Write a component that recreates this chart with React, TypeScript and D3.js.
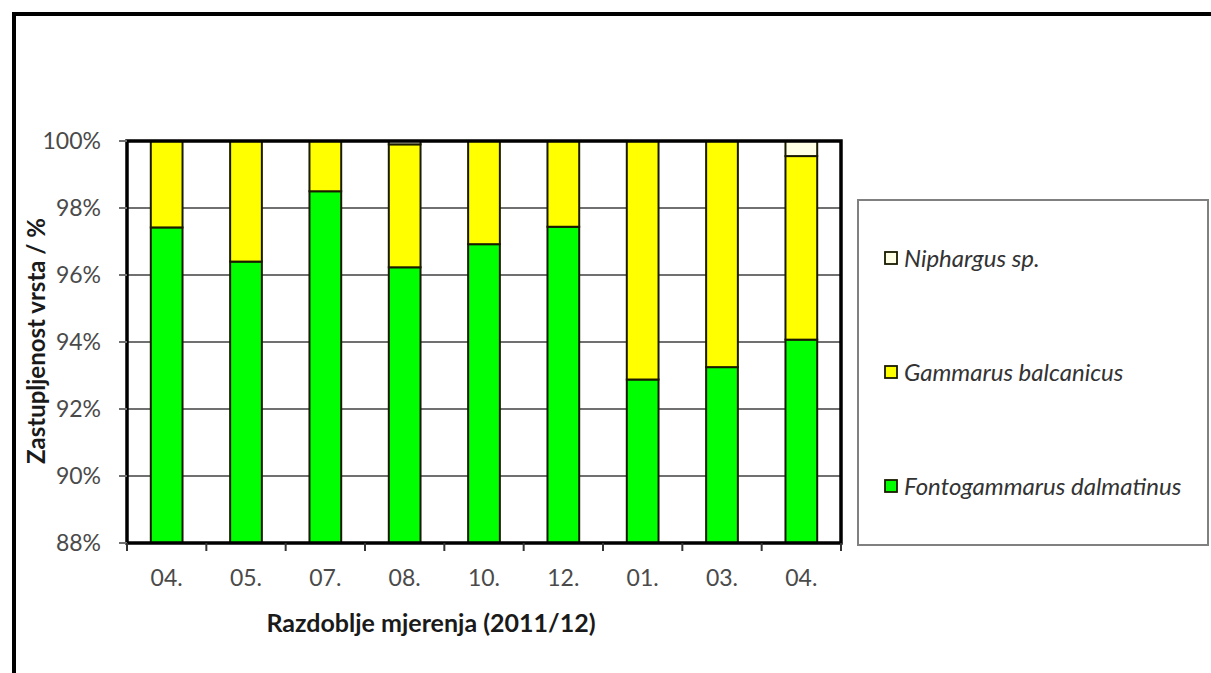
import React, { useEffect, useRef } from 'react';
import * as d3 from 'd3';

const periods = ['04.', '05.', '07.', '08.', '10.', '12.', '01.', '03.', '04.'];
const fontogammarus = [97.42, 96.4, 98.5, 96.23, 96.92, 97.44, 92.88, 93.25, 94.07];
const gammarus = [2.58, 3.6, 1.5, 3.67, 3.08, 2.56, 7.12, 6.75, 5.48];
const niphargus = [0, 0, 0, 0.1, 0, 0, 0, 0, 0.45];
const yTicks = [88, 90, 92, 94, 96, 98, 100];

const seriesNames = ['Fontogammarus dalmatinus', 'Gammarus balcanicus', 'Niphargus sp.'];
const seriesColors = ['#00ff00', '#ffff00', '#ffffe6'];

const W = 1211;
const H = 673;
const FONT = 'Lato, "Open Sans", sans-serif';

const App: React.FC = () => {
  const svgRef = useRef<SVGSVGElement>(null);

  useEffect(() => {
    const svg = d3.select(svgRef.current);
    svg.selectAll('*').remove();

    const left = 127;
    const right = 841;
    const top = 141;
    const bottom = 543;

    const rows = periods.map((p, i) => ({
      idx: i,
      f: fontogammarus[i],
      g: gammarus[i],
      n: niphargus[i],
    }));

    const x = d3
      .scaleBand<number>()
      .domain(d3.range(periods.length))
      .range([left, right])
      .paddingInner(0.6)
      .paddingOuter(0.3);
    const y = d3.scaleLinear().domain([88, 100]).range([bottom, top]).clamp(true);

    // outer frame (top and left only visible)
    svg.append('line').attr('x1', 12).attr('x2', W).attr('y1', 14).attr('y2', 14)
      .attr('stroke', '#000').attr('stroke-width', 4);
    svg.append('line').attr('x1', 14).attr('x2', 14).attr('y1', 12).attr('y2', H)
      .attr('stroke', '#000').attr('stroke-width', 4);

    // gridlines
    svg.append('g')
      .selectAll('line')
      .data(yTicks.filter((t) => t > 88 && t < 100))
      .join('line')
      .attr('x1', left)
      .attr('x2', right)
      .attr('y1', (d) => y(d))
      .attr('y2', (d) => y(d))
      .attr('stroke', '#707070')
      .attr('stroke-width', 2);

    // stacked bars
    const stack = d3.stack<typeof rows[0]>().keys(['f', 'g', 'n']);
    const stacked = stack(rows);
    svg.append('g')
      .selectAll('g')
      .data(stacked)
      .join('g')
      .attr('fill', (_, i) => seriesColors[i])
      .selectAll('rect')
      .data((s) => s.filter((d) => d[1] - d[0] > 0))
      .join('rect')
      .attr('x', (d) => x(d.data.idx)!)
      .attr('width', x.bandwidth())
      .attr('y', (d) => y(d[1]))
      .attr('height', (d) => y(d[0]) - y(d[1]))
      .attr('stroke', '#1a1a00')
      .attr('stroke-width', 2);

    // plot border
    svg.append('rect')
      .attr('x', left)
      .attr('y', top)
      .attr('width', right - left)
      .attr('height', bottom - top)
      .attr('fill', 'none')
      .attr('stroke', '#000')
      .attr('stroke-width', 3.5);

    // y ticks and labels
    const yAxis = svg.append('g');
    yAxis.selectAll('line')
      .data(yTicks)
      .join('line')
      .attr('x1', left - 8)
      .attr('x2', left)
      .attr('y1', (d) => y(d))
      .attr('y2', (d) => y(d))
      .attr('stroke', '#707070')
      .attr('stroke-width', 2);
    yAxis.selectAll('text')
      .data(yTicks)
      .join('text')
      .attr('x', 101)
      .attr('y', (d) => y(d) + 8)
      .attr('text-anchor', 'end')
      .attr('font-family', FONT)
      .attr('font-size', 23)
      .attr('fill', '#4a4a4a')
      .text((d) => `${d}%`);

    // x ticks at band boundaries
    const step = x.step();
    const x0 = left;
    svg.append('g')
      .selectAll('line')
      .data(d3.range(periods.length + 1))
      .join('line')
      .attr('x1', (i) => x0 + i * step)
      .attr('x2', (i) => x0 + i * step)
      .attr('y1', bottom)
      .attr('y2', bottom + 8)
      .attr('stroke', '#333')
      .attr('stroke-width', 2);
    svg.append('g')
      .selectAll('text')
      .data(rows)
      .join('text')
      .attr('x', (d) => x(d.idx)! + x.bandwidth() / 2)
      .attr('y', 586)
      .attr('text-anchor', 'middle')
      .attr('font-family', FONT)
      .attr('font-size', 23)
      .attr('fill', '#4a4a4a')
      .text((d) => periods[d.idx]);

    // axis titles
    svg.append('text')
      .attr('x', 431)
      .attr('y', 632)
      .attr('text-anchor', 'middle')
      .attr('font-family', FONT)
      .attr('font-weight', 'bold')
      .attr('font-size', 25)
      .attr('fill', '#1a1a1a')
      .text('Razdoblje mjerenja (2011/12)');
    svg.append('text')
      .attr('transform', 'translate(45, 341) rotate(-90)')
      .attr('text-anchor', 'middle')
      .attr('font-family', FONT)
      .attr('font-weight', 'bold')
      .attr('font-size', 24)
      .attr('fill', '#1a1a1a')
      .text('Zastupljenost vrsta / %');

    // legend
    const lg = svg.append('g');
    lg.append('rect')
      .attr('x', 858)
      .attr('y', 200)
      .attr('width', 350)
      .attr('height', 345)
      .attr('fill', '#fff')
      .attr('stroke', '#808080')
      .attr('stroke-width', 2);
    const order = [2, 1, 0];
    const item = lg.selectAll('g')
      .data(order)
      .join('g')
      .attr('transform', (_, i) => `translate(885, ${258 + i * 114})`);
    item.append('rect')
      .attr('x', 0)
      .attr('y', -6)
      .attr('width', 12)
      .attr('height', 12)
      .attr('fill', (d) => seriesColors[d])
      .attr('stroke', '#1a1a00')
      .attr('stroke-width', 1.8);
    item.append('text')
      .attr('x', 19)
      .attr('y', 9)
      .attr('font-family', FONT)
      .attr('font-style', 'italic')
      .attr('font-size', 24)
      .attr('fill', '#333')
      .text((d) => seriesNames[d]);
  }, []);

  return (
    <svg
      ref={svgRef}
      width={W}
      height={H}
      style={{ position: 'absolute', left: 0, top: 0, background: '#fff' }}
    />
  );
};

export default App;
